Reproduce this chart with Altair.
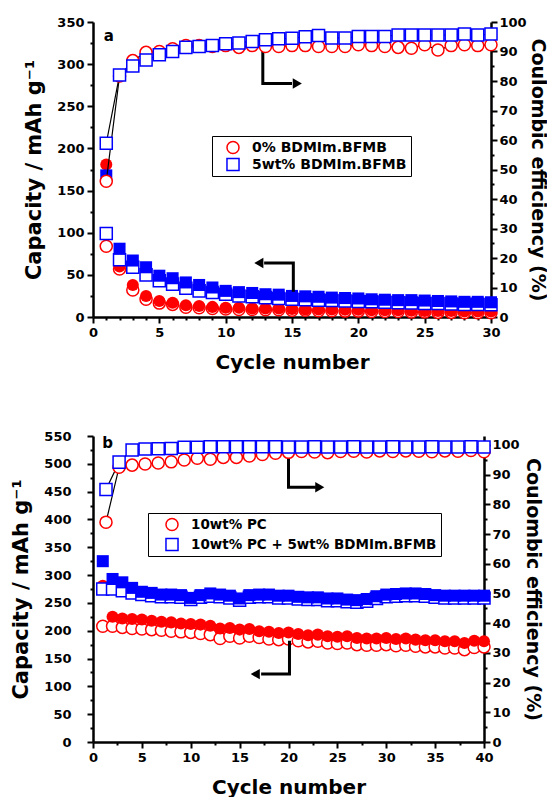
import altair as alt
import pandas as pd

FONT = "DejaVu Sans"
RED = "#ff0000"
BLUE = "#0000ff"

# ---------------- Panel a data ----------------
cycles_a = list(range(1, 31))
a_dis_0 = [181, 60, 38, 25, 19, 17, 14, 13, 12, 11, 11, 10, 10, 10, 9.5, 9, 9, 9, 8.5, 8.5,
           8, 8, 8, 7.5, 7, 7, 7, 6.5, 6.5, 6.5]
a_ch_0 = [84, 57, 32, 21, 16.5, 15, 11.5, 11, 10, 9.5, 9, 9, 8.5, 8.5, 8, 8, 7.5, 7.5, 7, 7,
          6.5, 6.5, 6.5, 6, 6, 5.5, 5.5, 5, 5, 5]
a_dis_5 = [168, 81, 67, 59, 49, 46, 41, 38, 35, 31, 29.5, 28.5, 27, 26.5, 25, 24.5, 24, 23, 22.5, 22,
           21, 20.5, 20, 20, 19.5, 19, 18.5, 18, 18, 17.5]
a_ch_5 = [99, 68, 59, 50, 43, 39, 34, 31, 29, 27, 25, 24, 23, 22, 21, 20.5, 20, 19.5, 19, 18.5,
          18, 17.5, 17, 16.5, 16, 16, 15.5, 15, 15, 14.5]
a_ce_0 = [46.0, 81.7, 86.9, 89.7, 90.0, 90.9, 92.0, 92.0, 91.7, 92.0, 91.4, 92.0, 91.7, 91.7, 92.0,
          92.0, 91.7, 91.7, 91.7, 92.3, 92.0, 91.7, 91.4, 91.1, 92.3, 90.5, 92.0, 92.3, 92.0, 92.3]
a_ce_5 = [58.9, 82.0, 85.1, 87.1, 88.9, 90.0, 91.4, 91.7, 92.0, 92.6, 92.9, 93.4, 94.0, 94.3, 94.5,
          95.0, 95.4, 94.6, 94.6, 95.1, 95.1, 95.1, 95.6, 95.6, 95.6, 95.6, 95.6, 95.9, 95.6, 95.9]
a_labels = ["0% BDMIm.BFMB", "5wt% BDMIm.BFMB"]

# ---------------- Panel b data ----------------
cycles_b = list(range(1, 41))
b_dis_pc = [281, 225, 222, 221, 220, 218, 216, 215, 213, 212, 211, 209, 204, 205, 202, 203, 199, 198, 196, 197,
            194, 192, 193, 190, 189, 190, 187, 186, 186, 187, 185, 186, 184, 183, 183, 181, 181, 178, 182, 181]
b_ch_pc = [208, 208, 206, 204, 203, 202, 201, 199, 198, 197, 195, 193, 186, 190, 187, 190, 188, 185, 184, 185,
           182, 180, 181, 178, 177, 178, 175, 174, 174, 175, 173, 174, 172, 171, 171, 169, 169, 166, 170, 171]
b_dis_bd = [325, 293, 287, 277, 270, 268, 265, 265, 264, 259, 264, 267, 265, 263, 258, 264, 265, 265, 263, 263,
            261, 260, 260, 258, 258, 256, 255, 257, 262, 265, 266, 267, 267, 266, 264, 263, 263, 263, 263, 263]
b_ch_bd = [275, 275, 272, 268, 265, 263, 261, 261, 260, 256, 260, 262, 261, 259, 255, 260, 261, 261, 259, 259,
           257, 256, 256, 254, 254, 252, 251, 253, 258, 261, 262, 263, 263, 262, 260, 259, 259, 259, 259, 259]
ce_x_b = [1.33, 2.67, 4.0, 5.33, 6.67, 8.0, 9.33, 10.67, 12.0, 13.33, 14.67, 16.0, 17.33, 18.67, 20.0,
          21.33, 22.67, 24.0, 25.33, 26.67, 28.0, 29.33, 30.67, 32.0, 33.33, 34.67, 36.0, 37.33, 38.67, 40.0]
b_ce_pc = [74.0, 92.5, 93.2, 93.6, 93.9, 94.3, 94.9, 95.5, 95.2, 95.8, 95.8, 96.3, 96.8, 97.2, 97.5,
           97.8, 97.6, 97.4, 97.8, 97.9, 97.6, 98.0, 97.8, 98.0, 97.9, 97.7, 98.0, 97.9, 98.1, 97.7]
b_ce_bd = [85.0, 94.2, 98.3, 98.6, 98.7, 98.8, 99.2, 99.2, 99.4, 99.4, 99.4, 99.4, 99.4, 99.4, 99.3,
           99.3, 99.4, 99.3, 99.3, 99.4, 99.3, 99.3, 99.4, 99.3, 99.3, 99.4, 99.3, 99.3, 99.4, 99.3]
b_labels = ["10wt% PC", "10wt% PC + 5wt% BDMIm.BFMB"]

# ---------------- annotation arrows (data coords) ----------------
a_arrow_r = ([12.8, 12.8, 15.0], [319, 277, 277], (15.4, 277))
a_arrow_l = ([15.1, 15.1, 12.9], [30, 64, 64], (12.5, 64))
b_arrow_r = ([20.0, 20.0, 22.8], [526, 458, 458], (23.2, 458))
b_arrow_l = ([20.1, 20.1, 17.2], [182, 122, 122], (16.6, 122))


def tick_axis(maxv, step, major, title, orient, **kw):
    n = int(round(maxv / step))
    vals = [round(i * step, 3) for i in range(n + 1)]
    return alt.Axis(
        values=vals,
        labelExpr=f"datum.value % {major} == 0 ? datum.label : ''",
        tickSize={"condition": {"test": f"datum.value % {major} == 0", "value": 6}, "value": 3},
        title=title, orient=orient, labelOverlap=False, labelFlush=False, grid=False,
        labelFont=FONT, labelFontWeight="bold", labelFontSize=13, labelColor="black",
        titleFont=FONT, titleFontWeight="bold", titleColor="black",
        domainColor="black", domainWidth=2.5, tickColor="black", tickWidth=2, **kw)


def panel(cycles, dis1, ch1, dis2, ch2, ce_x, ce1, ce2, labels, xmax, xstep, ymax, ystep,
          cemax, arrow_r, arrow_l, letter, letter_pos, legend_pos, legend_font, width, height,
          left_label_pad, right_title_pad):
    x_enc = alt.X("cycle:Q", scale=alt.Scale(domain=[0, xmax], nice=False),
                  axis=tick_axis(xmax, xstep, 5, "Cycle number", "bottom",
                                 labelPadding=3, titlePadding=13, titleFontSize=20))
    y_enc = alt.Y("v:Q", scale=alt.Scale(domain=[0, ymax], nice=False),
                  axis=tick_axis(ymax, ystep, 50, "Capacity / mAh g\u207b\u00b9", "left",
                                 labelPadding=left_label_pad, titlePadding=12, titleFontSize=21))
    yr_enc = alt.Y("ce:Q", scale=alt.Scale(domain=[0, cemax], nice=False),
                   axis=tick_axis(100, 5, 10, "Coulombic efficiency (%)", "right",
                                  labelPadding=2, titlePadding=right_title_pad, titleFontSize=19))

    def df(vals):
        return pd.DataFrame({"cycle": cycles, "v": vals})

    msize = 145
    open_red = alt.Chart(df(ch1)).mark_point(shape="circle", filled=False, fill="white", fillOpacity=1,
                                             color=RED, size=msize, strokeWidth=1.5, opacity=1
                                             ).encode(x=x_enc, y=y_enc)
    fill_red = alt.Chart(df(dis1)).mark_point(shape="circle", filled=True, color=RED, size=msize,
                                              opacity=1).encode(x=x_enc, y=y_enc)
    open_blue = alt.Chart(df(ch2)).mark_point(shape="square", filled=False, fill="white", fillOpacity=1,
                                              color=BLUE, size=msize, strokeWidth=1.5, opacity=1
                                              ).encode(x=x_enc, y=y_enc)
    fill_blue = alt.Chart(df(dis2)).mark_point(shape="square", filled=True, color=BLUE, size=msize,
                                               opacity=1).encode(x=x_enc, y=y_enc)

    arrows = pd.DataFrame({
        "cycle": arrow_r[0] + arrow_l[0],
        "v": arrow_r[1] + arrow_l[1],
        "arrow": ["r"] * 3 + ["l"] * 3,
        "i": [0, 1, 2, 0, 1, 2],
    })
    arrow_lines = alt.Chart(arrows).mark_line(color="black", strokeWidth=3).encode(
        x=x_enc, y=y_enc, detail="arrow:N", order="i:Q")
    head_r = alt.Chart(pd.DataFrame({"cycle": [arrow_r[2][0]], "v": [arrow_r[2][1]]})).mark_point(
        shape="triangle-right", filled=True, color="black", size=110, opacity=1).encode(x=x_enc, y=y_enc)
    head_l = alt.Chart(pd.DataFrame({"cycle": [arrow_l[2][0]], "v": [arrow_l[2][1]]})).mark_point(
        shape="triangle-left", filled=True, color="black", size=110, opacity=1).encode(x=x_enc, y=y_enc)
    letter_t = alt.Chart(pd.DataFrame({"cycle": [letter_pos[0]], "v": [letter_pos[1]], "t": [letter]})
                         ).mark_text(font=FONT, fontWeight="bold", fontSize=15, color="black",
                                     align="center", baseline="middle").encode(x=x_enc, y=y_enc, text="t:N")

    left = alt.layer(open_red, fill_red, open_blue, fill_blue, arrow_lines, head_r, head_l, letter_t)

    ce = pd.DataFrame({
        "cycle": list(ce_x) + list(ce_x),
        "ce": list(ce1) + list(ce2),
        "series": [labels[0]] * len(ce_x) + [labels[1]] * len(ce_x),
    })
    ce_line = alt.Chart(ce).mark_line(color="black", strokeWidth=1.2).encode(
        x=x_enc, y=yr_enc, detail="series:N")
    legend = alt.Legend(orient="none", legendX=legend_pos[0], legendY=legend_pos[1], title=None,
                        strokeColor="black", fillColor="white", padding=4,
                        symbolOffset=legend_pos[2], labelOffset=12, rowPadding=legend_pos[3],
                        clipHeight=legend_pos[4],
                        symbolSize=msize, symbolStrokeWidth=1.5,
                        labelFont=FONT, labelFontWeight="bold", labelFontSize=legend_font,
                        labelColor="black", labelLimit=400)
    ce_pts = alt.Chart(ce).mark_point(filled=False, fill="white", fillOpacity=1, size=msize,
                                      strokeWidth=1.5, opacity=1).encode(
        x=x_enc, y=yr_enc,
        color=alt.Color("series:N", scale=alt.Scale(domain=labels, range=[RED, BLUE]), legend=legend),
        shape=alt.Shape("series:N", scale=alt.Scale(domain=labels, range=["circle", "square"]),
                        legend=legend),
    )
    right = alt.layer(ce_line, ce_pts)
    return alt.layer(left, right).resolve_scale(y="independent").properties(width=width, height=height)


panel_a = panel(cycles_a, a_dis_0, a_ch_0, a_dis_5, a_ch_5, cycles_a, a_ce_0, a_ce_5, a_labels,
                30, 1, 350, 25, 100, a_arrow_r, a_arrow_l, "a", (1.2, 333),
                (119, 114, 10, 2, 15), 14, 398, 295, 3, 1)
panel_b = panel(cycles_b, b_dis_pc, b_ch_pc, b_dis_bd, b_ch_bd, ce_x_b, b_ce_pc, b_ce_bd, b_labels,
                40, 2.5, 550, 25, 103, b_arrow_r, b_arrow_l, "b", (1.5, 538),
                (55, 77, 13, 5, 15), 13.5, 391, 306, 16, 3)

chart = alt.vconcat(panel_a, panel_b, spacing=58).resolve_scale(
    x="independent", y="independent", color="independent", shape="independent"
).properties(
    padding={"top": 16, "left": 10, "right": 0, "bottom": 0},
    background="white",
).configure_view(strokeWidth=0)

chart.save("out.html", embed_options={"renderer": "svg", "actions": False})
